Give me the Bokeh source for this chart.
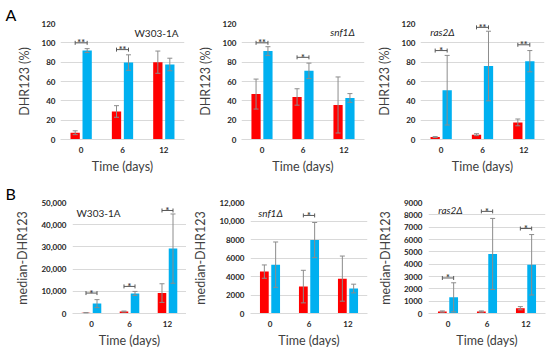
from bokeh.plotting import figure
from bokeh.models import (FactorRange, Range1d, ColumnDataSource, Whisker, TeeHead,
                          FixedTicker, Label)
from bokeh.transform import dodge
from bokeh.layouts import column, row
from bokeh.core.properties import value
from bokeh.embed import file_html
from bokeh.resources import INLINE

categories = ["0", "6", "12"]

# Panel A: DHR123 (%)
a1_red = [7, 29, 80]
a1_red_err = [2, 6, 11.5]
a1_blue = [92, 79.6, 77.6]
a1_blue_err = [2, 8, 6.5]
a1_sig_cats = ["0", "6"]
a1_sig_y = [100, 93]
a1_sig = ["**", "**"]

a2_red = [47, 44, 35.7]
a2_red_err = [15.5, 8.5, 29]
a2_blue = [91.5, 71, 43]
a2_blue_err = [4.5, 8, 4.5]
a2_sig_cats = ["0", "6"]
a2_sig_y = [100, 85]
a2_sig = ["**", "*"]

a3_red = [2.5, 5, 17.7]
a3_red_err = [0.5, 1, 3.5]
a3_blue = [51, 76, 81]
a3_blue_err = [36, 36, 11]
a3_sig_cats = ["0", "6", "12"]
a3_sig_y = [92, 116, 98]
a3_sig = ["*", "**", "**"]

# Panel B: median-DHR123
b1_red = [300, 900, 9200]
b1_red_err = [100, 200, 4200]
b1_blue = [4450, 9050, 29230]
b1_blue_err = [1800, 900, 15600]
b1_sig_cats = ["0", "6", "12"]
b1_sig_y = [9200, 12200, 46400]
b1_sig = ["*", "*", "*"]

b2_red = [4530, 2910, 3770]
b2_red_err = [720, 1760, 2440]
b2_blue = [5280, 7940, 2700]
b2_blue_err = [2450, 1900, 470]
b2_sig_cats = ["6"]
b2_sig_y = [10600]
b2_sig = ["*"]

b3_red = [160, 160, 430]
b3_red_err = [50, 50, 130]
b3_blue = [1310, 4830, 3950]
b3_blue_err = [1180, 2880, 2450]
b3_sig_cats = ["0", "6", "12"]
b3_sig_y = [2880, 8280, 6890]
b3_sig = ["*", "*", "*"]

a_ticks = [0, 20, 40, 60, 80, 100, 120]
a_tick_labels = ["0", "20", "40", "60", "80", "100", "120"]
b1_ticks = [0, 10000, 20000, 30000, 40000, 50000]
b1_tick_labels = ["0", "10,000", "20,000", "30,000", "40,000", "50,000"]
b2_ticks = [0, 2000, 4000, 6000, 8000, 10000, 12000]
b2_tick_labels = ["0", "2000", "4000", "6000", "8000", "10,000", "12,000"]
b3_ticks = [0, 1000, 2000, 3000, 4000, 5000, 6000, 7000, 8000, 9000]
b3_tick_labels = ["0", "1000", "2000", "3000", "4000", "5000", "6000", "7000", "8000", "9000"]

RED = "#FF0000"
BLUE = "#00B0F0"
FONT = "Lato"


def panel(width, height, bl, br, bt, bb, ticks, tick_labels, ylabel,
          red, red_err, blue, blue_err, sig_cats, sig_y, sig,
          strain, sx, sy, italic, ystand, ylab_stand, letter=None, letter_off=0):
    p = figure(x_range=FactorRange(factors=categories),
               y_range=Range1d(ticks[0], ticks[-1]),
               width=width, height=height, output_backend="svg",
               toolbar_location=None, tools="")
    p.min_border_left = bl
    p.min_border_right = br
    p.min_border_top = bt
    p.min_border_bottom = bb
    if letter:
        p.title.text = letter
        p.title.align = "left"
        p.title.offset = letter_off
        p.title.standoff = 0
        p.title.text_font = FONT
        p.title.text_font_size = "16px"
        p.title.text_font_style = "normal"
        p.title.text_color = "#000000"
    p.outline_line_color = None
    p.xgrid.grid_line_color = None
    p.ygrid.grid_line_color = "#D9D9D9"
    p.yaxis.ticker = FixedTicker(ticks=ticks)
    p.yaxis.major_label_overrides = {t: l for t, l in zip(ticks, tick_labels)}
    for ax in (p.xaxis, p.yaxis):
        ax.major_tick_line_color = None
        ax.minor_tick_line_color = None
        ax.major_tick_out = 0
        ax.major_tick_in = 0
        ax.minor_tick_out = 0
        ax.major_label_text_font = FONT
        ax.major_label_text_font_size = "8px"
        ax.major_label_text_font_style = "bold"
        ax.major_label_text_color = "#262626"
        ax.axis_label_text_font = FONT
        ax.axis_label_text_font_size = "12.5px"
        ax.axis_label_text_font_style = "normal"
        ax.axis_label_text_color = "#404040"
    p.xaxis.axis_line_color = "#D9D9D9"
    p.yaxis.axis_line_color = None
    p.xaxis.major_label_standoff = 7
    p.xaxis.axis_label_standoff = 3
    p.yaxis.major_label_standoff = ystand
    p.yaxis.axis_label_standoff = ylab_stand
    p.xaxis.axis_label = "Time (days)"
    p.yaxis.axis_label = ylabel

    src = ColumnDataSource(dict(
        t=categories, red=red, blue=blue,
        rlo=[v - e for v, e in zip(red, red_err)],
        rhi=[v + e for v, e in zip(red, red_err)],
        blo=[v - e for v, e in zip(blue, blue_err)],
        bhi=[v + e for v, e in zip(blue, blue_err)],
    ))
    p.vbar(x=dodge("t", -0.145, range=p.x_range), top="red", width=0.225,
           source=src, fill_color=RED, line_color=None)
    p.vbar(x=dodge("t", 0.145, range=p.x_range), top="blue", width=0.225,
           source=src, fill_color=BLUE, line_color=None)
    for off, lo, hi in ((-0.145, "rlo", "rhi"), (0.145, "blo", "bhi")):
        w = Whisker(base=dodge("t", off, range=p.x_range), lower=lo, upper=hi,
                    source=src, line_color="#8C8C8C", line_width=1, level="overlay",
                    upper_head=TeeHead(size=5, line_color="#8C8C8C", line_width=1),
                    lower_head=TeeHead(size=5, line_color="#8C8C8C", line_width=1))
        p.add_layout(w)

    ssrc = ColumnDataSource(dict(t=sig_cats, y=sig_y, s=sig))
    bw = Whisker(dimension="width", base="y",
                 lower=dodge("t", -0.145, range=p.x_range),
                 upper=dodge("t", 0.145, range=p.x_range),
                 source=ssrc, line_color="#595959", line_width=1, level="overlay",
                 upper_head=TeeHead(size=4, line_color="#595959", line_width=1),
                 lower_head=TeeHead(size=4, line_color="#595959", line_width=1))
    p.add_layout(bw)
    p.text(x="t", y="y", text="s", source=ssrc, text_align="center",
           text_baseline="alphabetic", y_offset=0, text_font=value(FONT),
           text_font_size="9px", text_font_style="bold", text_color="#404040")

    p.add_layout(Label(x=sx, y=sy, x_units="screen", y_units="screen", text=strain,
                       text_align="center", text_baseline="middle",
                       text_font=FONT, text_font_size="10px",
                       text_font_style="italic" if italic else "normal",
                       text_color="#262626"))
    return p


f1 = panel(185, 176, 60, 1, 23, 35, a_ticks, a_tick_labels, "DHR123 (%)",
           a1_red, a1_red_err, a1_blue, a1_blue_err, a1_sig_cats, a1_sig_y, a1_sig,
           "W303-1A", 96, 107, False, 5, 7, letter="A", letter_off=-55)
f2 = panel(182, 176, 56, 3, 23, 35, a_ticks, a_tick_labels, "DHR123 (%)",
           a2_red, a2_red_err, a2_blue, a2_blue_err, a2_sig_cats, a2_sig_y, a2_sig,
           "snf1\u0394", 101, 108, True, 5, 7)
f3 = panel(183, 176, 53, 6, 23, 35, a_ticks, a_tick_labels, "DHR123 (%)",
           a3_red, a3_red_err, a3_blue, a3_blue_err, a3_sig_cats, a3_sig_y, a3_sig,
           "ras2\u0394", 22, 108, True, 5, 7)
f4 = panel(186, 175, 72, 0, 26, 38, b1_ticks, b1_tick_labels, "median-DHR123",
           b1_red, b1_red_err, b1_blue, b1_blue_err, b1_sig_cats, b1_sig_y, b1_sig,
           "W303-1A", 26, 101, False, 6, 8, letter="B", letter_off=-67)
f5 = panel(182, 175, 64, 1, 26, 38, b2_ticks, b2_tick_labels, "median-DHR123",
           b2_red, b2_red_err, b2_blue, b2_blue_err, b2_sig_cats, b2_sig_y, b2_sig,
           "snf1\u0394", 20, 101, True, 6, 8)
f6 = panel(182, 175, 60, 5, 26, 38, b3_ticks, b3_tick_labels, "median-DHR123",
           b3_red, b3_red_err, b3_blue, b3_blue_err, b3_sig_cats, b3_sig_y, b3_sig,
           "ras2\u0394", 22, 104, True, 6, 8)

layout = column(row(f1, f2, f3, spacing=0), row(f4, f5, f6, spacing=0), spacing=0)
open("out.html", "w").write(file_html(layout, INLINE))
